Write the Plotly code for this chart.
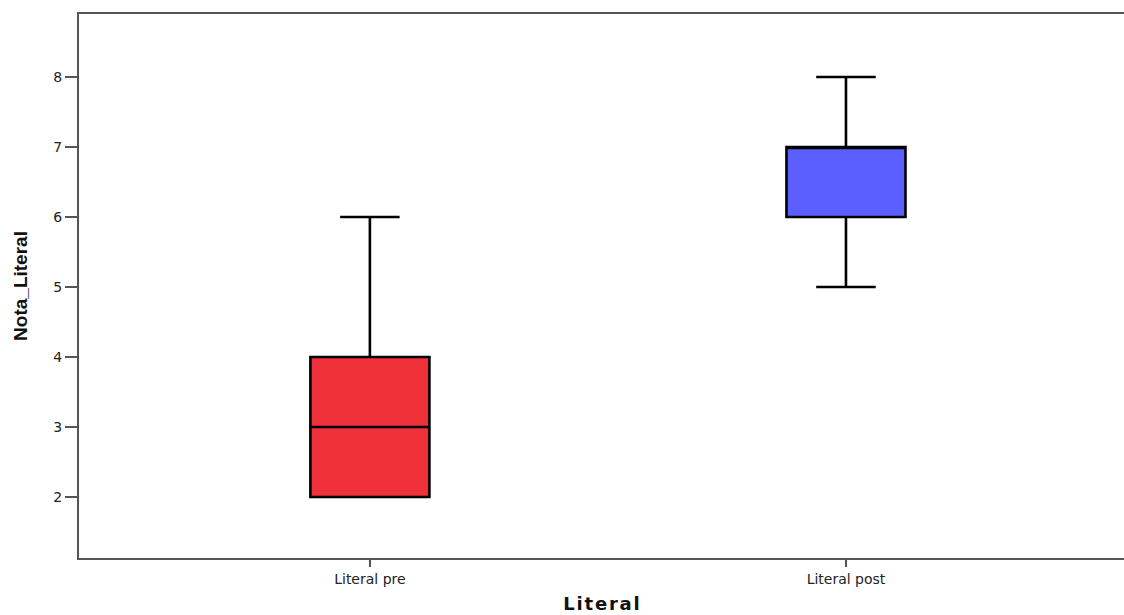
import plotly.graph_objects as go

# Box-plot statistics for each group
groups = ["Literal pre", "Literal post"]
q1 = [2, 6]
medians = [3, 7]
q3 = [4, 7]
lower_whisker = [2, 5]
upper_whisker = [6, 8]
fill_colors = ["#EF323A", "#5B5FFF"]

positions = list(range(len(groups)))

fig = go.Figure()
for i, name in enumerate(groups):
    fig.add_trace(go.Box(
        x=[positions[i]],
        q1=[q1[i]],
        median=[medians[i]],
        q3=[q3[i]],
        lowerfence=[lower_whisker[i]],
        upperfence=[upper_whisker[i]],
        name=name,
        width=0.25,
        whiskerwidth=0.5,
        fillcolor=fill_colors[i],
        line=dict(color="#000000", width=2.6),
        boxpoints=False,
        hoverinfo="skip",
    ))

tick_font = dict(family="DejaVu Sans, Liberation Sans, sans-serif", size=14, color="#222222")

fig.update_layout(
    width=1124,
    height=615,
    margin=dict(l=79, r=0, t=14, b=57),
    paper_bgcolor="white",
    plot_bgcolor="white",
    showlegend=False,
    font=dict(family="Liberation Sans, Arial, sans-serif", color="#222222"),
    xaxis=dict(
        range=[-0.611, 1.584],
        tickvals=positions,
        ticktext=groups,
        ticks="outside",
        ticklen=7,
        tickwidth=2,
        tickcolor="#555555",
        showline=True,
        linecolor="#555555",
        linewidth=2,
        mirror=True,
        showgrid=False,
        zeroline=False,
        tickfont=tick_font,
        title=dict(
            text="<b>" + "\u200a".join("Literal") + "</b>",
            font=dict(family="DejaVu Sans, Liberation Sans, sans-serif", size=18, color="#111111"),
            standoff=12,
        ),
    ),
    yaxis=dict(
        range=[1.129, 8.9],
        tickvals=[2, 3, 4, 5, 6, 7, 8],
        ticks="outside",
        ticklen=12,
        tickwidth=2,
        tickcolor="#555555",
        showline=True,
        linecolor="#555555",
        linewidth=2,
        showgrid=False,
        zeroline=False,
        tickfont=tick_font,
        title=dict(
            text="<b>Nota_Literal</b>",
            font=dict(size=19, color="#111111", family="Liberation Sans, Arial, sans-serif"),
            standoff=21,
        ),
    ),
)

fig.write_html("out.html")
